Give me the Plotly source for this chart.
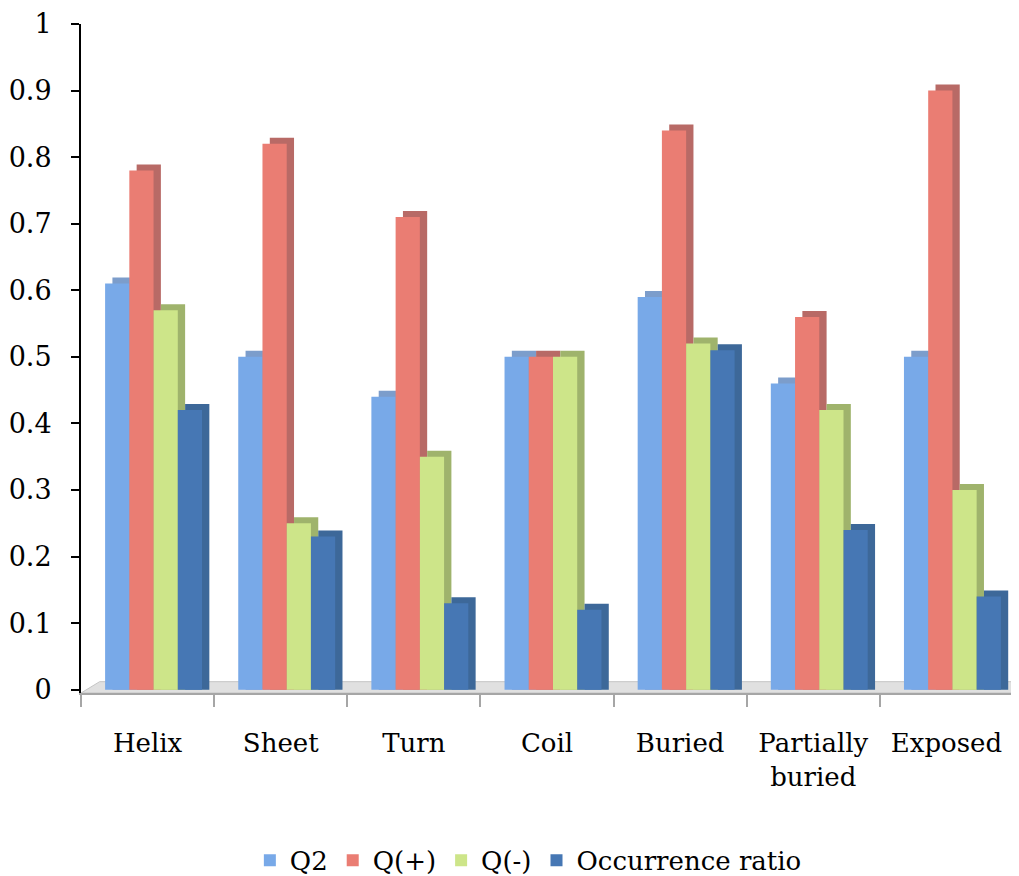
import plotly.graph_objects as go

categories = ["Helix", "Sheet", "Turn", "Coil", "Buried", "Partially<br>buried", "Exposed"]
q2 = [0.61, 0.50, 0.44, 0.50, 0.59, 0.46, 0.50]
q_plus = [0.78, 0.82, 0.71, 0.50, 0.84, 0.56, 0.90]
q_minus = [0.57, 0.25, 0.35, 0.50, 0.52, 0.42, 0.30]
occurrence = [0.42, 0.23, 0.13, 0.12, 0.51, 0.24, 0.14]
y_ticks = [round(i * 0.1, 1) for i in range(11)]
y_tick_labels = ["0", "0.1", "0.2", "0.3", "0.4", "0.5", "0.6", "0.7", "0.8", "0.9", "1"]

series = [
    ("Q2", q2, "#78a9e8", "#7c9dcb"),
    ("Q(+)", q_plus, "#ea7d73", "#b86a66"),
    ("Q(-)", q_minus, "#cde589", "#9fb36c"),
    ("Occurrence ratio", occurrence, "#4677b4", "#3d6899"),
]

FONT = "DejaVu Serif"
bar_w = 0.182
shift = 0.045
depth_dx = 0.055
depth_dy = 0.009

fig = go.Figure()
# side/top faces (drawn first, behind)
for i, (name, vals, front, side) in enumerate(series):
    off = -2 * bar_w + shift + i * bar_w
    fig.add_trace(go.Bar(
        x=categories, y=[v + depth_dy for v in vals], width=bar_w, offset=off + depth_dx,
        marker=dict(color=side, line=dict(width=0)), showlegend=False, hoverinfo="skip",
    ))
# front faces
for i, (name, vals, front, side) in enumerate(series):
    off = -2 * bar_w + shift + i * bar_w
    fig.add_trace(go.Bar(
        x=categories, y=vals, width=bar_w, offset=off, name=name,
        marker=dict(color=front, line=dict(width=0)),
    ))

# floor
fig.add_shape(type="path", xref="paper", yref="y",
              path="M 0,-0.005 L 1,-0.005 L 1.006,0.012 L 0.02,0.012 Z",
              fillcolor="#e0e0e0", line=dict(color="#c4c4c4", width=1), layer="below")

fig.update_layout(
    width=1011, height=868,
    margin=dict(l=73, r=6, t=16, b=183),
    barmode="overlay",
    plot_bgcolor="white", paper_bgcolor="white",
    font=dict(family=FONT, size=26, color="black"),
    showlegend=True,
    legend=dict(orientation="h", x=0.48, xanchor="center", yref="container", y=0.018,
                yanchor="middle", font=dict(family=FONT, size=26)),
    xaxis=dict(
        type="category", showgrid=False, showline=True, linecolor="#a6a6a6", linewidth=2,
        ticks="outside", tickson="boundaries", ticklen=12, tickcolor="#a6a6a6", tickwidth=2,
        tickfont=dict(family=FONT, size=26), ticklabelstandoff=26, automargin=False,
    ),
    yaxis=dict(
        range=[-0.005, 1], tickvals=y_ticks, ticktext=y_tick_labels,
        showgrid=False, zeroline=False, showline=True, linecolor="black", linewidth=2,
        ticks="outside", ticklen=8, tickcolor="black", tickwidth=2,
        tickfont=dict(family=FONT, size=27), ticklabelstandoff=14, automargin=False,
    ),
)

fig.write_html("out.html")
